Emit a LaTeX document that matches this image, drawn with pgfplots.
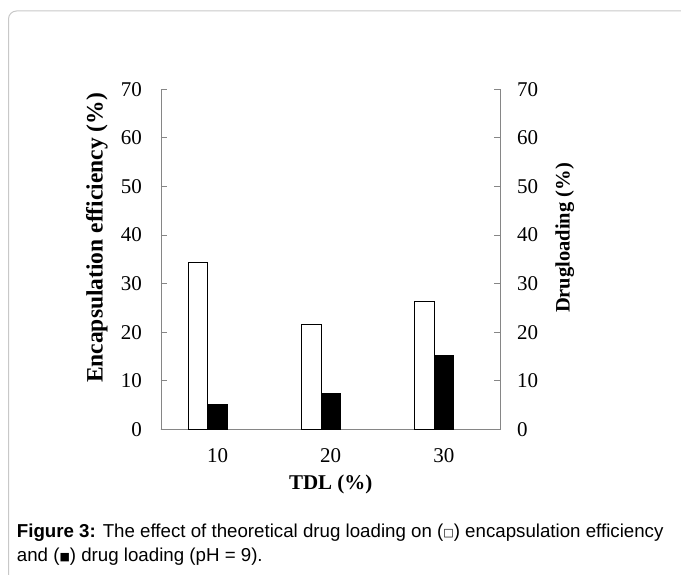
\documentclass[border=0pt]{standalone}
\usepackage{fontspec}
\setmainfont{Liberation Serif}
\newfontfamily\capfont{Liberation Sans}
\newfontfamily\symfont{DejaVu Sans}
\usepackage{pgfplots}
\pgfplotsset{compat=1.18}

\definecolor{axisgray}{RGB}{134,134,134}
\definecolor{framegray}{RGB}{200,200,200}

% encapsulation efficiency (left axis) and drug loading (right axis)
\pgfplotstableread{
x  ee    dl
0  34.4  5.1
1  21.5  7.3
2  26.3  15.2
}\tdldata

\newcommand\lblfont{\fontsize{21}{25}\selectfont\bfseries}

\pgfplotsset{
  tdlaxis/.style={
    scale only axis,
    width=339.5pt, height=340pt,
    at={(161pt,144.7pt)}, anchor=south west,
    xmin=-0.5, xmax=2.5,
    ymin=0, ymax=70,
    ytick={0,10,...,70},
    tick align=inside,
    major tick length=6pt,
    axis line style={axisgray, line width=0.9pt},
    y tick style={axisgray, line width=0.9pt},
    /pgf/number format/assume math mode=true,
    tick label style={font=\fontsize{21}{25}\selectfont},
  },
}

\begin{document}
\begin{tikzpicture}
\path[use as bounding box] (0,0) rectangle (681pt,574pt);
\draw[framegray, line width=1pt, rounded corners=8pt]
  (8.5pt,-2pt) -- (8.5pt,563pt) -- (684pt,563pt);

\begin{axis}[
  tdlaxis,
  axis x line*=bottom, axis y line*=left,
  xtick={0,1,2}, xticklabels={10,20,30},
  x tick style={draw=none},
  xticklabel style={anchor=center, yshift=-26pt, inner sep=0pt},
  yticklabel style={anchor=east, xshift=-19pt, inner sep=0pt},
  xlabel={TDL (\%)},
  ylabel={Encapsulation efficiency (\%)},
  every axis x label/.style={at={(axis description cs:0.5,-0.161)}, anchor=center, font=\lblfont},
  every axis y label/.style={at={(axis description cs:-0.1885,0.5626)}, rotate=90, anchor=center,
    font=\fontsize{23.5}{27}\selectfont\bfseries},
]
\addplot[ybar, bar width=19.5pt, bar shift=-19.4pt, fill=white, draw=black, line width=0.9pt]
  table[x=x, y=ee] {\tdldata};
\draw[axisgray, line width=0.9pt] (axis cs:-0.5,0) -- ++(0,-6pt);
\draw[axisgray, line width=0.9pt] (axis cs:2.5,0) -- ++(0,-6pt);
\end{axis}

\begin{axis}[
  tdlaxis,
  axis x line=none, axis y line*=right,
  yticklabel pos=right,
  yticklabel style={anchor=west, xshift=16.5pt, inner sep=0pt},
  ylabel={Drugloading (\%)},
  every axis y label/.style={at={(axis description cs:1.189,0.5626)}, rotate=90, anchor=center,
    font=\fontsize{20.5}{25}\selectfont\bfseries},
]
\addplot[ybar, bar width=19pt, bar shift=0pt, fill=black, draw=black, line width=0.9pt]
  table[x=x, y=dl] {\tdldata};
\end{axis}

\node[anchor=base west, inner sep=0pt, font=\capfont\fontsize{18.7}{24}\selectfont]
  at (16.7pt,36.3pt) {\textbf{Figure 3:} The effect of theoretical drug loading on ({\symfont\fontsize{11}{11}\selectfont\raisebox{1pt}{□}}) encapsulation efficiency};
\node[anchor=base west, inner sep=0pt, font=\capfont\fontsize{18.7}{24}\selectfont]
  at (16.7pt,12.3pt) {and ({\symfont\fontsize{11}{11}\selectfont\raisebox{1pt}{■}}) drug loading (pH = 9).};
\end{tikzpicture}
\end{document}
